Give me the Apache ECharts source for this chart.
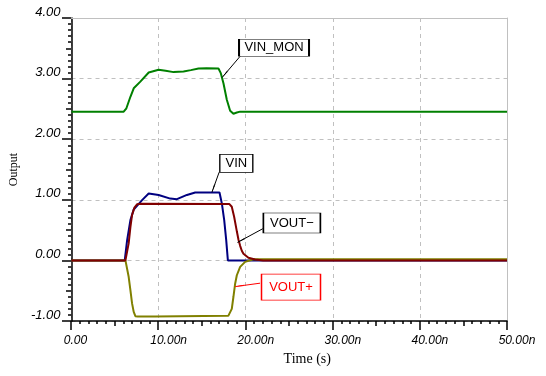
<!DOCTYPE html>
<html>
<head>
<meta charset="utf-8">
<script src="https://cdn.jsdelivr.net/npm/echarts@6/dist/echarts.min.js"></script>
<style>html,body{margin:0;padding:0;background:#fff}#c{width:546px;height:376px}</style>
</head>
<body>
<div id="c"></div>
<script>
// ---- data (time in ns, value in V) ----
const xTickLabels = ['0.00', '10.00n', '20.00n', '30.00n', '40.00n', '50.00n'];
const yTickLabels = ['-1.00', '0.00', '1.00', '2.00', '3.00', '4.00'];

const vinMonT = [0, 5.99, 6.30, 6.76, 7.14, 7.90, 8.86, 10.0, 10.8, 11.72, 12.86, 13.7, 14.58, 15.5, 16.87, 17.14, 17.45, 17.83, 18.21, 18.59, 18.98, 19.36, 50];
const vinMonV = [2.455, 2.455, 2.51, 2.70, 2.84, 2.95, 3.10, 3.145, 3.13, 3.107, 3.117, 3.14, 3.167, 3.17, 3.167, 3.09, 2.92, 2.65, 2.47, 2.42, 2.44, 2.455, 2.455];

const vinT = [0, 6.11, 6.38, 6.76, 7.14, 7.52, 8.10, 8.86, 10.0, 11.34, 12.1, 13.25, 14.2, 16.99, 17.26, 17.53, 17.76, 17.95, 50];
const vinV = [0, 0, 0.33, 0.665, 0.84, 0.90, 0.995, 1.105, 1.08, 1.02, 1.01, 1.08, 1.12, 1.12, 0.94, 0.665, 0.334, 0, 0];

const voutMinusT = [0, 6.19, 6.56, 6.76, 6.95, 7.22, 7.52, 7.90, 18.13, 18.4, 18.67, 18.98, 19.17, 19.36, 19.55, 19.74, 20.31, 21.08, 22.0, 50];
const voutMinusV = [0, 0, 0.28, 0.55, 0.75, 0.87, 0.925, 0.935, 0.93, 0.885, 0.72, 0.48, 0.34, 0.24, 0.16, 0.11, 0.045, 0.015, 0, 0];

const voutPlusT = [0, 6.19, 6.56, 6.76, 6.95, 7.14, 7.33, 7.6, 9.6, 9.7, 18.0, 18.13, 18.4, 18.59, 18.79, 18.98, 19.36, 19.93, 20.88, 50];
const voutPlusV = [0, 0, -0.27, -0.49, -0.71, -0.85, -0.92, -0.925, -0.925, -0.915, -0.915, -0.906, -0.80, -0.60, -0.38, -0.245, -0.107, -0.025, 0.02, 0.02];

// annotation anchors (data coordinates): box centre, arrow start, arrow tip
const annVinMon = { box: [23.25, 3.51], from: [19.37, 3.37], to: [17.3, 3.02] };
const annVin = { box: [18.92, 1.60], from: [16.95, 1.455], to: [16.12, 1.124] };
const annVoutM = { box: [25.3, 0.617], from: [21.96, 0.523], to: [19.05, 0.296] };
const annVoutP = { box: [25.2, -0.44], from: [21.65, -0.376], to: [18.79, -0.432] };

function pairs(t, v) { return t.map((x, i) => [x, v[i]]); }

function annotation(ann, text, size, color, textColor) {
  return {
    markPoint: {
      silent: true,
      symbol: 'rect',
      symbolSize: size,
      itemStyle: { color: '#fff', borderColor: color, borderWidth: 1 },
      label: { show: true, position: 'inside', formatter: '{b}', color: textColor, fontSize: 13, fontFamily: 'Liberation Sans' },
      data: [{ name: text, coord: ann.box }]
    },
    markLine: {
      silent: true,
      symbol: ['none', 'arrow'],
      symbolSize: [1, 9],
      lineStyle: { color: color, width: 1, type: 'solid' },
      label: { show: false },
      data: [[{ coord: ann.from }, { coord: ann.to }]]
    }
  };
}

function line(name, t, v, color, ann) {
  return Object.assign({
    name: name, type: 'line', data: pairs(t, v), showSymbol: false, symbol: 'none',
    lineStyle: { color: color, width: 2 }, itemStyle: { color: color }, animation: false
  }, ann);
}

const tickFont = { fontFamily: 'Liberation Sans', fontStyle: 'italic', fontSize: 12, color: '#000' };

// tick-only axes living in thin strips just outside the plot (ticks point into the strip)
function xTicks(interval, len) {
  return {
    gridIndex: 1, type: 'value', min: 0, max: 50, interval: interval, position: 'top',
    axisLine: { show: false, onZero: false }, axisLabel: { show: false }, splitLine: { show: false },
    axisTick: { show: true, inside: true, length: len, lineStyle: { color: '#000', width: 1.5, opacity: 1 } }
  };
}
function yTicks(interval, len) {
  return {
    gridIndex: 2, type: 'value', min: -1, max: 4, interval: interval, position: 'right',
    axisLine: { show: false, onZero: false }, axisLabel: { show: false }, splitLine: { show: false },
    axisTick: { show: true, inside: true, length: len, lineStyle: { color: '#000', width: 1.5, opacity: 1 } }
  };
}

const chart = echarts.init(document.getElementById('c'), null, { renderer: 'canvas' });
chart.setOption({
  animation: false,
  backgroundColor: '#fff',
  grid: [
    { left: 71, top: 18, right: 39, bottom: 55, show: false },
    { left: 71, top: 321, right: 39, bottom: 45, show: false },
    { left: 62, top: 18, right: 475, bottom: 55, show: false }
  ],
  xAxis: [{
    type: 'value', min: 0, max: 50, interval: 10, position: 'bottom',
    name: 'Time (s)', nameLocation: 'middle', nameGap: 29,
    nameTextStyle: { fontFamily: 'Liberation Serif', fontSize: 14, color: '#000', padding: [0, 0, 0, 36] },
    axisLine: { show: true, onZero: false, lineStyle: { color: '#000', width: 1.5 } },
    axisTick: { show: false },
    axisLabel: Object.assign({
      margin: 14, align: 'center',
      formatter: (v) => { const i = Math.round(v / 10); return (i === 0 ? '{z|' : '{n|') + xTickLabels[i] + '}'; },
      rich: { z: Object.assign({ padding: [0, 0, 0, 8] }, tickFont), n: Object.assign({ padding: [0, 0, 0, 20] }, tickFont) }
    }, tickFont),
    splitLine: { show: true, lineStyle: { color: '#c0c0c0', type: [4, 4], width: 1 } }
  }, {
    type: 'value', min: 0, max: 50, position: 'top',
    axisLine: { show: true, onZero: false, lineStyle: { color: '#c0c0c0', width: 1 } },
    axisTick: { show: false }, axisLabel: { show: false }, splitLine: { show: false }
  }, xTicks(10, 9), xTicks(5, 5), xTicks(1, 3),
  { gridIndex: 2, type: 'value', min: 0, max: 1, show: false }],
  yAxis: [{
    type: 'value', min: -1, max: 4, interval: 1, position: 'left',
    name: 'Output', nameLocation: 'middle', nameGap: 51, nameRotate: 90,
    nameTextStyle: { fontFamily: 'Liberation Serif', fontSize: 12, color: '#000' },
    axisLine: { show: true, onZero: false, lineStyle: { color: '#000', width: 1.5 } },
    axisTick: { show: false },
    axisLabel: Object.assign({ margin: 11, verticalAlign: 'bottom', lineHeight: 12, formatter: (v) => yTickLabels[Math.round(v + 1)] }, tickFont, { fontSize: 13 }),
    splitLine: { show: true, lineStyle: { color: '#c0c0c0', type: [4, 4], width: 1 } }
  }, {
    type: 'value', min: -1, max: 4, position: 'right',
    axisLine: { show: true, onZero: false, lineStyle: { color: '#c0c0c0', width: 1 } },
    axisTick: { show: false }, axisLabel: { show: false }, splitLine: { show: false }
  }, { gridIndex: 1, type: 'value', min: 0, max: 1, show: false },
  yTicks(1, 9), yTicks(0.5, 5), yTicks(0.1, 3)],
  series: [
    line('VIN_MON', vinMonT, vinMonV, '#008000', annotation(annVinMon, 'VIN_MON', [70, 17], '#000', '#000')),
    line('VIN', vinT, vinV, '#000080', annotation(annVin, 'VIN', [33, 18], '#000', '#000')),
    line('VOUT+', voutPlusT, voutPlusV, '#808000', annotation(annVoutP, 'VOUT+', [59, 26], '#ff0000', '#ff0000')),
    line('VOUT-', voutMinusT, voutMinusV, '#800000', annotation(annVoutM, 'VOUT\u2212', [57, 20], '#000', '#000'))
  ]
});
</script>
</body>
</html>
